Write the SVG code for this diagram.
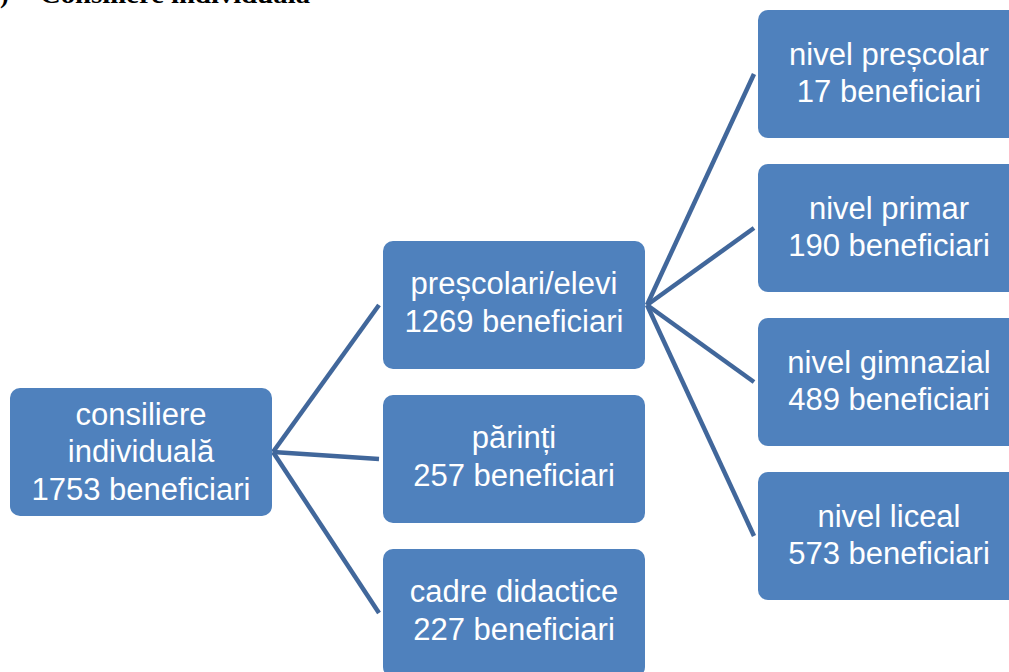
<svg xmlns="http://www.w3.org/2000/svg" width="1009" height="672" viewBox="0 0 1009 672">
<style>
.box{fill:#4F81BD;}
.t{font-family:"Liberation Sans",Arial,sans-serif;font-size:31px;fill:#FFFFFF;text-anchor:middle;}
.cap{font-family:"Liberation Serif","Times New Roman",serif;font-size:26px;font-weight:bold;fill:#000;}
.c{stroke:#41679B;stroke-width:4.5;fill:none;stroke-linecap:butt;}
</style>
<rect width="1009" height="672" fill="#FFFFFF"/>
<g id="caption">
<text class="cap" x="0" y="3">)</text>
<text class="cap" x="40" y="3" textLength="270" lengthAdjust="spacingAndGlyphs">Consiliere individuală</text>
</g>
<g id="connectors">
<line class="c" x1="273" y1="452" x2="379" y2="305"/>
<line class="c" x1="273" y1="452" x2="379" y2="459"/>
<line class="c" x1="273" y1="452" x2="379" y2="613"/>
<line class="c" x1="647" y1="305" x2="754" y2="74"/>
<line class="c" x1="647" y1="305" x2="754" y2="228"/>
<line class="c" x1="647" y1="305" x2="754" y2="382"/>
<line class="c" x1="647" y1="305" x2="754" y2="536"/>
</g>
<g id="root">
<rect class="box" x="10" y="388" width="262" height="128" rx="10"/>
<text class="t" x="141" y="425">consiliere</text>
<text class="t" x="141" y="462">individuală</text>
<text class="t" x="141" y="500">1753 beneficiari</text>
</g>
<g id="prescolari">
<rect class="box" x="383" y="241" width="262" height="128" rx="10"/>
<text class="t" x="514" y="294">preșcolari/elevi</text>
<text class="t" x="514" y="332">1269 beneficiari</text>
</g>
<g id="parinti">
<rect class="box" x="383" y="395" width="262" height="128" rx="10"/>
<text class="t" x="514" y="448">părinți</text>
<text class="t" x="514" y="486">257 beneficiari</text>
</g>
<g id="cadre">
<rect class="box" x="383" y="549" width="262" height="128" rx="10"/>
<text class="t" x="514" y="602">cadre didactice</text>
<text class="t" x="514" y="640">227 beneficiari</text>
</g>
<g id="nivel-prescolar">
<rect class="box" x="758" y="10" width="262" height="128" rx="10"/>
<text class="t" x="889" y="65">nivel preșcolar</text>
<text class="t" x="889" y="102">17 beneficiari</text>
</g>
<g id="nivel-primar">
<rect class="box" x="758" y="164" width="262" height="128" rx="10"/>
<text class="t" x="889" y="219">nivel primar</text>
<text class="t" x="889" y="256">190 beneficiari</text>
</g>
<g id="nivel-gimnazial">
<rect class="box" x="758" y="318" width="262" height="128" rx="10"/>
<text class="t" x="889" y="373">nivel gimnazial</text>
<text class="t" x="889" y="410">489 beneficiari</text>
</g>
<g id="nivel-liceal">
<rect class="box" x="758" y="472" width="262" height="128" rx="10"/>
<text class="t" x="889" y="527">nivel liceal</text>
<text class="t" x="889" y="564">573 beneficiari</text>
</g>
</svg>
